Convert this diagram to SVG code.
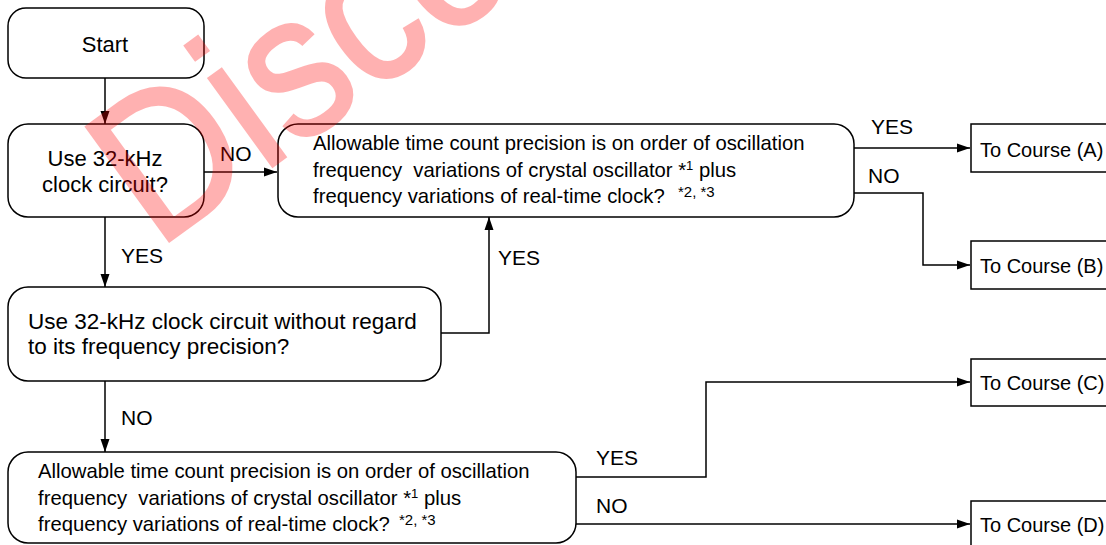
<svg xmlns="http://www.w3.org/2000/svg" width="1106" height="545" viewBox="0 0 1106 545">
<defs>
<marker id="ah" markerUnits="userSpaceOnUse" markerWidth="14" markerHeight="10" refX="13" refY="5" orient="auto">
<path d="M0,0.5 L13,5 L0,9.5 Z" fill="#000"/>
</marker>
<style>
.box{fill:#fff;stroke:#000;stroke-width:1.5}
.ln{fill:none;stroke:#000;stroke-width:1.5;marker-end:url(#ah)}
text{font-family:"Liberation Sans",Arial,sans-serif;fill:#000;white-space:pre}
.b{font-size:22px}
.r{font-size:22.5px}
.d{font-size:20.3px}
.l{font-size:21px}
.c{font-size:20px}
.sup{font-size:13px}
.sup2{font-size:15px}
</style>
</defs>
<rect width="1106" height="545" fill="#fff"/>
<g id="connectors">
<path class="ln" d="M105,78 V124"/>
<path class="ln" d="M204,172 H277"/>
<path class="ln" d="M105,217 V287"/>
<path class="ln" d="M441,333 H489 V217"/>
<path class="ln" d="M105,381 V452"/>
<path class="ln" d="M854,148 H970"/>
<path class="ln" d="M854,193 H923 V265 H970"/>
<path class="ln" d="M576,477 H706 V382 H970"/>
<path class="ln" d="M576,524 H970"/>
<text class="l" x="220" y="161">NO</text>
<text class="l" x="121" y="263">YES</text>
<text class="l" x="498" y="265">YES</text>
<text class="l" x="121" y="425">NO</text>
<text class="l" x="871" y="134">YES</text>
<text class="l" x="868" y="183">NO</text>
<text class="l" x="596" y="465">YES</text>
<text class="l" x="596" y="513">NO</text>
</g>
<g id="start">
<rect class="box" x="8" y="8" width="196" height="70" rx="18"/>
<text class="b" x="105" y="52" text-anchor="middle">Start</text>
</g>
<g id="use32k">
<rect class="box" x="8" y="124" width="196" height="93" rx="20"/>
<text class="b" x="105" y="166" text-anchor="middle">Use 32-kHz</text>
<text class="b" x="105" y="192" text-anchor="middle">clock circuit?</text>
</g>
<g id="decision1">
<rect class="box" x="278" y="124" width="576" height="93" rx="20"/>
<text class="d" x="313" y="150">Allowable time count precision is on order of oscillation</text>
<text class="d" x="313" y="177">frequency  variations of crystal oscillator *<tspan class="sup" dy="-7">1</tspan><tspan dy="7"> plus</tspan></text>
<text class="d" x="313" y="203">frequency variations of real-time clock?<tspan class="sup2" x="678" dy="-6">*2, *3</tspan></text>
</g>
<g id="regard">
<rect class="box" x="8" y="287" width="433" height="94" rx="20"/>
<text class="r" x="28" y="329">Use 32-kHz clock circuit without regard</text>
<text class="r" x="28" y="354">to its frequency precision?</text>
</g>
<g id="decision2">
<rect class="box" x="8" y="452" width="568" height="91" rx="20"/>
<text class="d" x="38" y="478">Allowable time count precision is on order of oscillation</text>
<text class="d" x="38" y="505">frequency  variations of crystal oscillator *<tspan class="sup" dy="-7">1</tspan><tspan dy="7"> plus</tspan></text>
<text class="d" x="38" y="531">frequency variations of real-time clock?<tspan class="sup2" x="399" dy="-6">*2, *3</tspan></text>
</g>
<g id="courseA">
<rect class="box" x="971" y="124" width="200" height="48"/>
<text class="c" x="980" y="157">To Course (A)</text>
</g>
<g id="courseB">
<rect class="box" x="971" y="241" width="200" height="48"/>
<text class="c" x="980" y="273">To Course (B)</text>
</g>
<g id="courseC">
<rect class="box" x="971" y="359" width="200" height="47"/>
<text class="c" x="980" y="390">To Course (C)</text>
</g>
<g id="courseD">
<rect class="box" x="971" y="501" width="200" height="60"/>
<text class="c" x="980" y="532">To Course (D)</text>
</g>
<g id="watermark" opacity="0.3" transform="translate(168 242) rotate(-36) scale(0.88 1)">
<text x="-15" y="0" style="font-size:205px;fill:#ff0000;stroke:#ff0000;stroke-width:3">Discontinued</text>
</g>
</svg>
